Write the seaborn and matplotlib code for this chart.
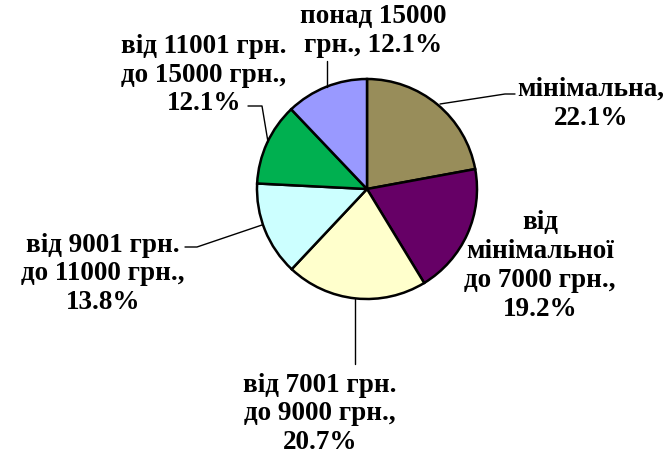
import matplotlib
matplotlib.use("Agg")
import matplotlib.pyplot as plt
import seaborn as sns

sns.set_theme(style="white")
plt.rcParams['font.family'] = ['Liberation Serif', 'DejaVu Serif']

categories = ["мінімальна", "від мінімальної до 7000 грн.", "від 7001 грн. до 9000 грн.",
              "від 9001 грн. до 11000 грн.", "від 11001 грн. до 15000 грн.", "понад 15000 грн."]
values = [22.1, 19.2, 20.7, 13.8, 12.1, 12.1]
labels = ["мінімальна,\n22.1%",
          "від\nмінімальної\nдо 7000 грн.,\n19.2%",
          "від 7001 грн.\nдо 9000 грн.,\n20.7%",
          "від 9001 грн.\nдо 11000 грн.,\n13.8%",
          "від 11001 грн.\nдо 15000 грн.,\n12.1%",
          "понад 15000\nгрн., 12.1%"]
colors = ["#988D5A", "#660066", "#FFFFCC", "#CCFFFF", "#00B050", "#9999FF"]

W, H = 671, 456
fig = plt.figure(figsize=(W / 100, H / 100), dpi=100)
ax = fig.add_axes([0, 0, 1, 1])

cx, cy, r = 367, H - 190, 110
ax.pie(values, colors=colors, startangle=90, counterclock=False, center=(cx, cy), radius=r,
       wedgeprops=dict(edgecolor='black', linewidth=1.8), frame=True)
ax.set_xlim(0, W)
ax.set_ylim(0, H)
ax.set_aspect('equal')
ax.axis('off')

fs = 19.5
# label positions (pixel coords, y from top)
label_pos = [(591, 104), (540, 266), (320, 414), (103, 274), (204, 75), (373, 31)]
for lab, (x, y) in zip(labels, label_pos):
    ax.text(x, H - y, lab, ha='center', va='center', fontsize=fs, fontweight='bold',
            family=['Liberation Serif', 'DejaVu Serif'], linespacing=1.2, color='black')

# leader lines (pixel coords, y from top)
leaders = [
    [(440, 105), (505, 95), (515, 95)],
    [(355, 300), (355, 365)],
    [(262, 226), (197, 248), (185, 248)],
    [(268, 143), (262, 107), (248, 107)],
    [(327, 88), (327, 62)],
]
for pts in leaders:
    xs = [p[0] for p in pts]
    ys = [H - p[1] for p in pts]
    ax.plot(xs, ys, color='black', linewidth=1.0)

fig.savefig("out.png", dpi=100)
